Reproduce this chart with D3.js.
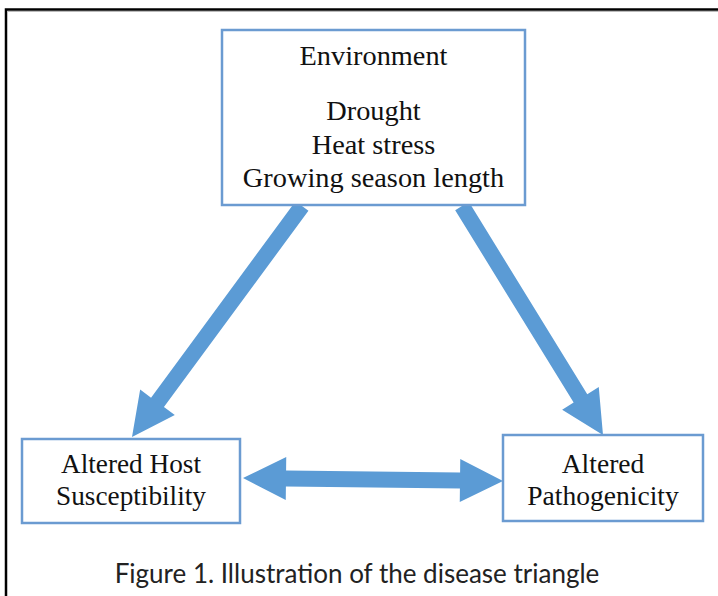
<!DOCTYPE html>
<html>
<head>
<meta charset="utf-8">
<script src="https://cdn.jsdelivr.net/npm/d3@7"></script>
<style>
  html, body { margin: 0; padding: 0; background: #fff; }
  svg { display: block; }
  .box { fill: #fff; stroke: #6b9bd1; stroke-width: 2.5; }
  .label { font-family: "Liberation Serif", "Times New Roman", serif; font-size: 27px; fill: #111; text-anchor: middle; }
  .arrow { fill: #5b9bd5; }
  .caption { font-family: Lato, "Open Sans", sans-serif; font-size: 26px; fill: #222; text-anchor: middle; }
</style>
</head>
<body>
<svg id="chart" width="718" height="596"></svg>
<script>
// node ids and their text lines
var nodeIds = ['env', 'host', 'path'];
var nodeLines = [
    ['Environment', '', 'Drought', 'Heat stress', 'Growing season length'],
    ['Altered Host', 'Susceptibility'],
    ['Altered', 'Pathogenicity']
];
// arrows: from -> to, and whether both ends get a head
var arrowFrom = ['env', 'env', 'host'];
var arrowTo = ['host', 'path', 'path'];
var arrowBoth = [false, false, true];
var captionText = 'Figure 1. Illustration of the disease triangle';

// layout (pixels); sx = horizontal text stretch
var boxes = {
    env:  {x0: 222, y0: 30,  x1: 525, y1: 205, base: 65, gap: 33.5, sx: 1.05},
    host: {x0: 22,  y0: 439, x1: 240, y1: 523, base: 473, gap: 32, sx: 1.01},
    path: {x0: 503, y0: 435, x1: 703, y1: 521, base: 473, gap: 32, sx: 1.02}
};
var ends = {
    'env-host':  {a: [302, 206], b: [132, 437]},
    'env-path':  {a: [462, 206], b: [603, 435]},
    'host-path': {a: [243, 478], b: [503, 481]}
};
var shaftW = 16, headW = 43, headL = 43;

var svg = d3.select('#chart');
var line = d3.line();

// page frame (top and left rule)
svg.append('path')
    .attr('d', line([[6, 596], [6, 9.5], [718, 9.5]]))
    .attr('fill', 'none').attr('stroke', '#000').attr('stroke-width', 2.5);
svg.append('line').attr('x1', 8).attr('x2', 718).attr('y1', 11.5).attr('y2', 11.5)
    .attr('stroke', '#bbb').attr('stroke-width', 1);

// build an arrow polygon between two points
function arrowPoints(a, b, both) {
    var dx = b[0] - a[0], dy = b[1] - a[1];
    var len = Math.sqrt(dx * dx + dy * dy);
    var ux = dx / len, uy = dy / len;
    var nx = -uy, ny = ux;
    var s = shaftW / 2, h = headW / 2;
    function p(t, w) { return [a[0] + ux * t + nx * w, a[1] + uy * t + ny * w]; }
    var pts = [];
    if (both) {
        pts.push(p(0, 0), p(headL, h), p(headL, s));
    } else {
        pts.push(p(0, s));
    }
    pts.push(p(len - headL, s), p(len - headL, h), p(len, 0), p(len - headL, -h), p(len - headL, -s));
    if (both) {
        pts.push(p(headL, -s), p(headL, -h));
    } else {
        pts.push(p(0, -s));
    }
    return pts;
}

var arrows = arrowFrom.map(function (f, i) {
    return {key: f + '-' + arrowTo[i], both: arrowBoth[i]};
});
svg.selectAll('path.arrow').data(arrows).enter().append('path')
    .attr('class', 'arrow')
    .attr('d', function (d) {
        var e = ends[d.key];
        return line(arrowPoints(e.a, e.b, d.both)) + 'Z';
    });

// boxes with centred text
var nodes = nodeIds.map(function (id, i) { return {id: id, lines: nodeLines[i]}; });
var g = svg.selectAll('g.node').data(nodes).enter().append('g').attr('class', 'node');
g.append('rect').attr('class', 'box')
    .attr('x', function (d) { return boxes[d.id].x0; })
    .attr('y', function (d) { return boxes[d.id].y0; })
    .attr('width', function (d) { return boxes[d.id].x1 - boxes[d.id].x0; })
    .attr('height', function (d) { return boxes[d.id].y1 - boxes[d.id].y0; });
g.each(function (d) {
    var b = boxes[d.id];
    var cx = (b.x0 + b.x1) / 2;
    var y = b.base;
    d.lines.forEach(function (t, i) {
        if (i > 0) y += (t === '' ? 0.65 : 1) * b.gap;
        if (t === '') return;
        d3.select(this).append('text').attr('class', 'label')
            .attr('transform', 'translate(' + cx + ',' + y + ') scale(' + b.sx + ',1)')
            .text(t);
    }, this);
});

svg.append('text').attr('class', 'caption')
    .attr('x', 357).attr('y', 583)
    .text(captionText);
</script>
</body>
</html>
